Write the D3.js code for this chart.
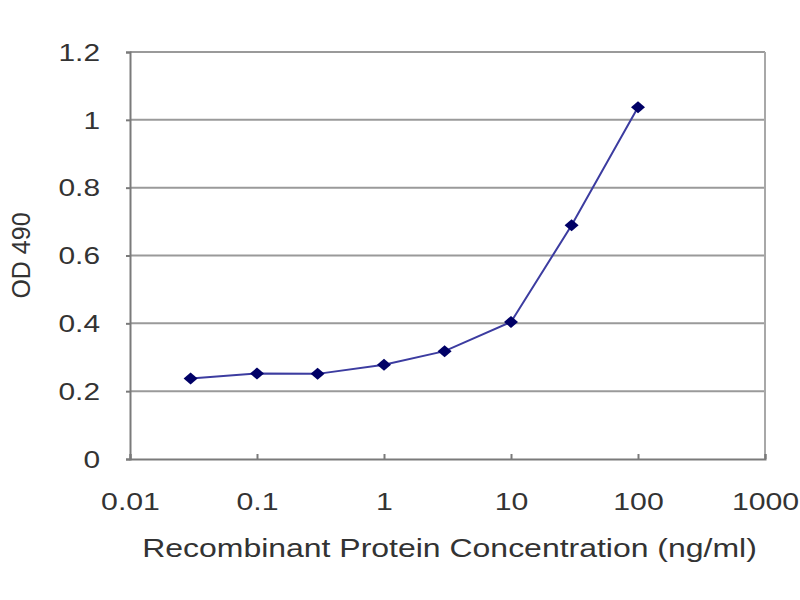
<!DOCTYPE html>
<html>
<head>
<meta charset="utf-8">
<script src="https://cdn.jsdelivr.net/npm/d3@7"></script>
<style>
  html, body { margin: 0; padding: 0; background: #fff; }
  svg { display: block; }
</style>
</head>
<body>
<svg id="chart" width="800" height="600"></svg>
<script>
// concentration (ng/ml) and measured OD 490
const concentrations = [0.03, 0.1, 0.3, 1, 3, 10, 30, 100];
const odValues = [0.237, 0.252, 0.251, 0.278, 0.318, 0.404, 0.689, 1.037];
const xTicks = [0.01, 0.1, 1, 10, 100, 1000];
const yTicks = [0, 0.2, 0.4, 0.6, 0.8, 1, 1.2];

const svg = d3.select("#chart");
const margin = { top: 52, right: 35, bottom: 141, left: 130 };
const width = +svg.attr("width");
const height = +svg.attr("height");
const innerWidth = width - margin.left - margin.right;
const innerHeight = height - margin.top - margin.bottom;
const fontFamily = "Liberation Sans, Arial, sans-serif";

const x = d3.scaleLog().domain([0.01, 1000]).range([0, innerWidth]);
const y = d3.scaleLinear().domain([0, 1.2]).range([innerHeight, 0]);

const g = svg.append("g")
    .attr("transform", `translate(${margin.left},${margin.top})`)
    .attr("font-family", fontFamily);

// glyphs in the picture are wider than tall: widen text, keep its anchor point
function widen(sel, factor) {
    sel.each(function () {
        const t = d3.select(this);
        const x0 = +t.attr("x") || 0;
        t.attr("x", x0 / factor).attr("transform", `scale(${factor},1)`);
    });
}

// grid lines
g.append("g")
    .selectAll("line")
    .data(yTicks.filter(d => d > 0))
    .join("line")
    .attr("x1", 0)
    .attr("x2", innerWidth)
    .attr("y1", d => y(d))
    .attr("y2", d => y(d))
    .attr("stroke", "#9a9a9a")
    .attr("stroke-width", 2);

// right border
g.append("line")
    .attr("x1", innerWidth).attr("x2", innerWidth)
    .attr("y1", 0).attr("y2", innerHeight)
    .attr("stroke", "#a8a8a8")
    .attr("stroke-width", 2);

// y axis
const yAxis = g.append("g")
    .call(d3.axisLeft(y).tickValues(yTicks).tickSize(4).tickPadding(26)
        .tickFormat(d => String(+d.toFixed(1))))
    .attr("font-family", fontFamily)
    .attr("font-size", 23);
yAxis.select(".domain").attr("stroke", "#7a7a7a").attr("stroke-width", 2);
yAxis.selectAll(".tick line").attr("stroke", "#7a7a7a").attr("stroke-width", 2);
yAxis.selectAll(".tick text")
    .attr("fill", "#333")
    .attr("dy", "0.36em")
    .call(widen, 1.3);

// x axis
const xAxis = g.append("g")
    .attr("transform", `translate(0,${innerHeight})`)
    .call(d3.axisBottom(x).tickValues(xTicks).tickSize(-5).tickPadding(34)
        .tickFormat(d => String(d)))
    .attr("font-family", fontFamily)
    .attr("font-size", 24);
xAxis.select(".domain").attr("stroke", "#7a7a7a").attr("stroke-width", 2);
xAxis.selectAll(".tick line").attr("stroke", "#7a7a7a").attr("stroke-width", 2);
xAxis.selectAll(".tick text")
    .attr("fill", "#333")
    .call(widen, 1.26);

// axis titles
g.append("g")
    .attr("transform", `translate(${innerWidth / 2 + 2},${innerHeight + 80})`)
    .append("text")
    .attr("text-anchor", "middle")
    .attr("dy", "0.71em")
    .attr("fill", "#333")
    .attr("font-size", 26)
    .attr("transform", "scale(1.23,1)")
    .text("Recombinant Protein Concentration (ng/ml)");

g.append("text")
    .attr("transform", `translate(${-margin.left + 12},${innerHeight / 2}) rotate(-90)`)
    .attr("text-anchor", "middle")
    .attr("dy", "0.71em")
    .attr("fill", "#333")
    .attr("font-size", 25)
    .text("OD 490");

// series
const points = concentrations.map((c, i) => ({ c, v: odValues[i] }));

g.append("path")
    .datum(points)
    .attr("fill", "none")
    .attr("stroke", "#3c3ca0")
    .attr("stroke-width", 2)
    .attr("d", d3.line().x(d => x(d.c)).y(d => y(d.v)));

const diamond = "M0,-6L7,0L0,6L-7,0Z";
g.append("g")
    .selectAll("path")
    .data(points)
    .join("path")
    .attr("d", diamond)
    .attr("transform", d => `translate(${x(d.c)},${y(d.v)})`)
    .attr("fill", "#000066");
</script>
</body>
</html>
